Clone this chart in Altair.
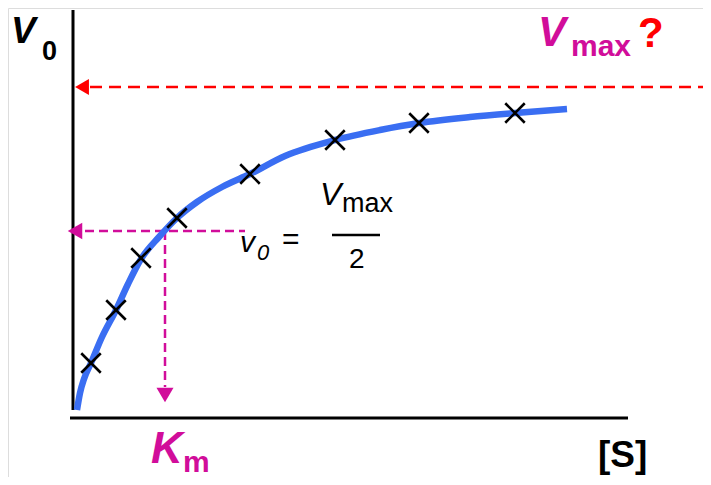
import altair as alt
import pandas as pd

# Blue Michaelis-Menten curve ([S], v0 in arbitrary units)
curve_s = [4, 7, 11, 18, 29, 43, 55, 68, 86, 104, 124, 149, 177, 212, 262, 307, 346, 397, 442, 494]
curve_v = [7, 24, 38, 54, 80, 107, 133, 158, 180, 199, 215, 230, 243, 261, 277, 287, 294, 300, 304, 308]

# Measured points (crosses)
obs_s = [18, 43, 68, 104, 177, 262, 346, 442]
obs_v = [54, 107, 159, 199, 243, 277, 294, 304]

# Reference levels
vmax_level = 330
half_vmax = 186
km = 92

# Annotation texts
lab_text = ["V", "0", "V", "max", "?", "v", "0", "=", "V", "max", "2", "K", "m", "[S]"]
lab_s = [-62, -31, 465, 498, 565, 167, 184, 209, 247, 269, 276, 78, 110, 525]
lab_v = [374, 357, 371, 361, 370, 165, 157, 168, 212, 205, 149, -46, -55, -50]
lab_size = [37, 27, 42, 30, 42, 30, 22, 30, 32, 27, 28, 44, 30, 37]
lab_color = ["#000000", "#000000", "#D10D9A", "#D10D9A", "#FF0000", "#000000", "#000000",
             "#000000", "#000000", "#000000", "#000000", "#D10D9A", "#D10D9A", "#000000"]
lab_style = ["bi", "b", "bi", "b", "b", "i", "i", "n", "i", "n", "n", "bi", "b", "b"]

MAGENTA = "#D10D9A"
BLUE = "#3A6EF2"

XS = alt.Scale(domain=[-65, 630], nice=False, zero=False)
YS = alt.Scale(domain=[-60, 409], nice=False, zero=False)


def X(f):
    return alt.X(f, type="quantitative", scale=XS, axis=None)


def Y(f):
    return alt.Y(f, type="quantitative", scale=YS, axis=None)


curve_df = pd.DataFrame({"s": curve_s, "v": curve_v})
obs_df = pd.DataFrame({"s": obs_s, "v": obs_v})

# axes lines
axes_df = pd.DataFrame({"s": [0, -3], "s2": [0, 555], "v": [7, -1], "v2": [407, -1]})
axes = alt.Chart(axes_df).mark_rule(color="black", strokeWidth=3).encode(
    x=X("s"), x2="s2", y=Y("v"), y2="v2")

curve = alt.Chart(curve_df).mark_line(
    color=BLUE, strokeWidth=6.5, interpolate="monotone", strokeCap="butt").encode(
    x=X("s"), y=Y("v"))

crosses = alt.Chart(obs_df).mark_point(
    shape="M-1,-1L1,1M-1,1L1,-1", size=380, filled=False, color="black",
    strokeWidth=2.6, opacity=1).encode(x=X("s"), y=Y("v"))

# red dashed Vmax line
red_df = pd.DataFrame({"s": [17], "s2": [640], "v": [vmax_level]})
red_line = alt.Chart(red_df).mark_rule(
    color="#FF0000", strokeWidth=2.5, strokeDash=[12, 7]).encode(
    x=X("s"), x2="s2", y=Y("v"))
red_head = alt.Chart(pd.DataFrame({"s": [9], "v": [vmax_level]})).mark_point(
    shape="triangle-left", size=256, filled=True, color="#FF0000", opacity=1).encode(
    x=X("s"), y=Y("v"))

# magenta dashed lines
mh_df = pd.DataFrame({"s": [12], "s2": [172], "v": [half_vmax]})
mag_h = alt.Chart(mh_df).mark_rule(
    color=MAGENTA, strokeWidth=2.5, strokeDash=[9, 5]).encode(
    x=X("s"), x2="s2", y=Y("v"))
mv_df = pd.DataFrame({"s": [km], "v": [half_vmax], "v2": [30]})
mag_v = alt.Chart(mv_df).mark_rule(
    color=MAGENTA, strokeWidth=2.5, strokeDash=[9, 5]).encode(
    x=X("s"), y=Y("v"), y2="v2")
mag_head_l = alt.Chart(pd.DataFrame({"s": [2], "v": [half_vmax]})).mark_point(
    shape="triangle-left", size=280, filled=True, color=MAGENTA, opacity=1).encode(
    x=X("s"), y=Y("v"))
mag_head_d = alt.Chart(pd.DataFrame({"s": [km], "v": [22]})).mark_point(
    shape="triangle-down", size=290, filled=True, color=MAGENTA, opacity=1).encode(
    x=X("s"), y=Y("v"))

# fraction bar
frac = alt.Chart(pd.DataFrame({"s": [259], "s2": [307], "v": [182]})).mark_rule(
    color="black", strokeWidth=2.5).encode(x=X("s"), x2="s2", y=Y("v"))

lab_df = pd.DataFrame({"t": lab_text, "s": lab_s, "v": lab_v, "size": lab_size,
                       "c": lab_color, "st": lab_style})

styles = {"bi": ("bold", "italic"), "b": ("bold", "normal"),
          "i": ("normal", "italic"), "n": ("normal", "normal")}
text_layers = []
for key, (fw, fs) in styles.items():
    sub = lab_df[lab_df["st"] == key]
    text_layers.append(
        alt.Chart(sub).mark_text(
            align="left", baseline="alphabetic", font="Liberation Sans",
            fontWeight=fw, fontStyle=fs).encode(
            x=X("s"), y=Y("v"), text="t:N",
            color=alt.Color("c:N", scale=None),
            size=alt.Size("size:Q", scale=None))
    )

chart = alt.layer(
    axes, red_line, red_head, mag_h, mag_v, mag_head_l, mag_head_d,
    curve, crosses, frac, *text_layers
).properties(
    width=695, height=469, padding=0, autosize=alt.AutoSizeParams(type="none")
).configure_view(stroke="transparent", strokeWidth=0).configure(background="white")

chart.save("out.html", embed_options={"renderer": "svg", "actions": False})
